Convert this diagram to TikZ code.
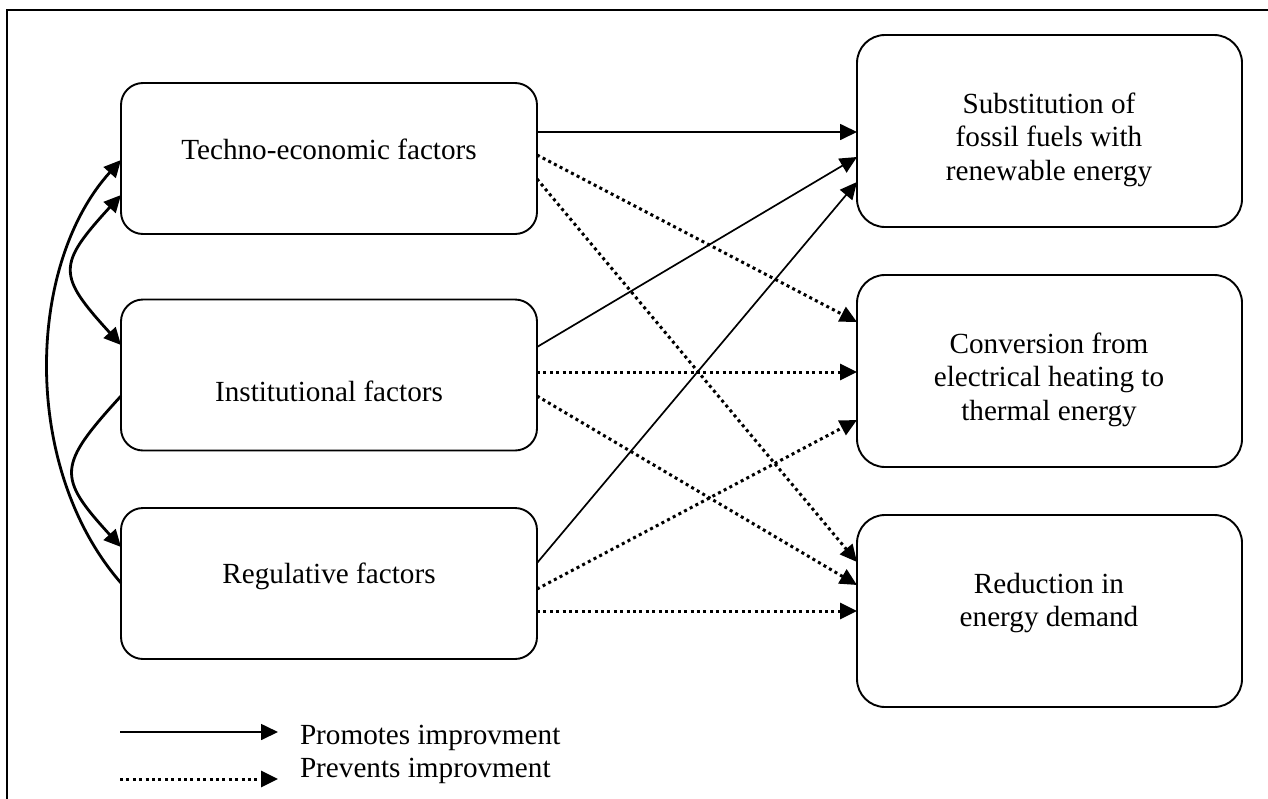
\documentclass[tikz,border=0pt]{standalone}
\usepackage{fontspec}
\setmainfont{Liberation Serif}
\usetikzlibrary{arrows.meta,calc}

\begin{document}
\begin{tikzpicture}[x=1pt,y=-1pt,
  every node/.style={font=\fontsize{29.2}{33.6}\selectfont, inner sep=0pt, outer sep=0pt},
  leftbox/.style={draw, line width=1.9pt, rounded corners=22pt, minimum width=416pt, minimum height=151pt},
  rightbox/.style={draw, line width=1.9pt, rounded corners=28pt, minimum width=385pt, minimum height=192pt},
  arrowhd/.style={-{Triangle[length=17pt,width=16pt]}},
  bothhd/.style={{Triangle[length=17pt,width=16pt]}-{Triangle[length=17pt,width=16pt]}},
  promotes/.style={line width=1.7pt, arrowhd},
  prevents/.style={line width=3pt, dash pattern=on 3pt off 3.4pt, arrowhd},
  link/.style={line width=2.8pt},
]
\setlength{\tabcolsep}{0pt}
\useasboundingbox (0,0) rectangle (1268,798);

% outer frame (left and top edges)
\draw[line width=2pt] (7,800) -- (7,10) -- (1270,10);

% factor boxes
\node[leftbox] (tech) at (329,158.5) {};
\node[leftbox] (inst) at (329,375) {};
\node[leftbox] (reg)  at (329,583.5) {};
\node[anchor=base] (techtxt) at (329,159) {Techno-economic factors};
\node[anchor=base] (insttxt) at (329,401) {Institutional factors};
\node[anchor=base] (regtxt)  at (329,583) {Regulative factors};

% outcome boxes
\node[rightbox] (sub)  at (1049.5,131) {};
\node[rightbox] (conv) at (1049.5,371) {};
\node[rightbox] (red)  at (1049.5,611) {};
\node[anchor=base] (subtxt) at (1049,113)
  {\begin{tabular}[t]{c}Substitution of\\fossil fuels with\\renewable energy\end{tabular}};
\node[anchor=base] (convtxt) at (1049,353)
  {\begin{tabular}[t]{c}Conversion from\\electrical heating to\\thermal energy\end{tabular}};
\node[anchor=base] (redtxt) at (1049,593)
  {\begin{tabular}[t]{c}Reduction in\\energy demand\end{tabular}};

% links between the factors
\draw[link, arrowhd] ([yshift=0.5pt]reg.west) .. controls +(-100,-115) and +(-95,105) .. ([yshift=-1.5pt]tech.west);
\draw[link, bothhd] ([yshift=-36.5pt]tech.west) .. controls +(-64,70) and +(-64,-70) .. ([yshift=30pt]inst.west);
\draw[link, arrowhd] ([yshift=-21pt]inst.west) .. controls +(-64,70) and +(-64,-70) .. ([yshift=36.5pt]reg.west);

% effects of the factors
\draw[promotes] ([yshift=26.5pt]tech.east) -- ([yshift=-1pt]sub.west);
\draw[prevents] ([yshift=3.5pt]tech.east) -- ([yshift=49pt]conv.west);
\draw[prevents] ([yshift=-20.5pt]tech.east) -- ([yshift=49pt]red.west);
\draw[promotes] ([yshift=28pt]inst.east) -- ([yshift=-26pt]sub.west);
\draw[prevents] ([yshift=3pt]inst.east) -- ([yshift=-1pt]conv.west);
\draw[prevents] ([yshift=-21pt]inst.east) -- ([yshift=26pt]red.west);
\draw[promotes] ([yshift=20.5pt]reg.east) -- ([yshift=-51pt]sub.west);
\draw[prevents] ([yshift=-5.5pt]reg.east) -- ([yshift=-49pt]conv.west);
\draw[prevents] ([yshift=-27.5pt]reg.east) -- (red.west);

% legend
\coordinate (proa) at (120,732);
\coordinate (prob) at (278,732);
\coordinate (prea) at (120,779);
\coordinate (preb) at (278,779);
\draw[promotes] (proa) -- (prob);
\draw[prevents] (prea) -- (preb);
\node[anchor=base west] (protxt) at (300,744) {Promotes improvment};
\node[anchor=base west] (pretxt) at (300,777) {Prevents improvment};
\end{tikzpicture}
\end{document}
